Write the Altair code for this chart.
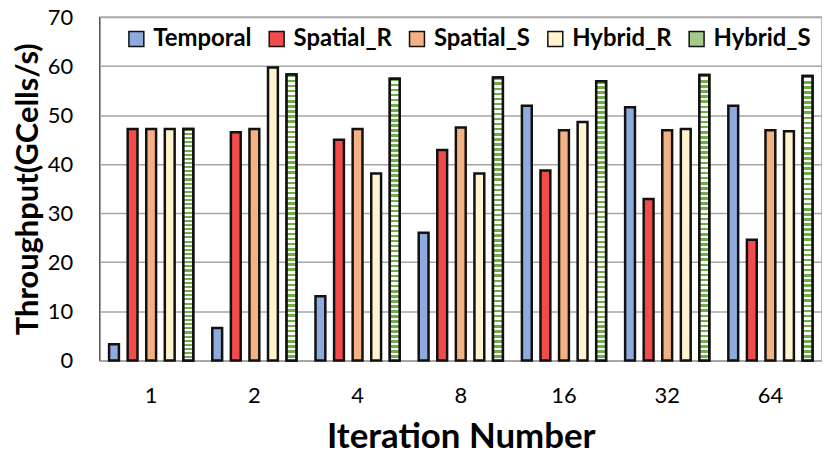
import altair as alt
import pandas as pd

iterations = ["1", "2", "4", "8", "16", "32", "64"]
series = ["Temporal", "Spatial_R", "Spatial_S", "Hybrid_R", "Hybrid_S"]
temporal = [3.3, 6.6, 13.1, 26.0, 51.9, 51.6, 51.9]
spatial_r = [47.2, 46.5, 45.0, 42.9, 38.7, 32.9, 24.6]
spatial_s = [47.2, 47.2, 47.2, 47.5, 46.9, 46.9, 46.9]
hybrid_r = [47.2, 59.7, 38.1, 38.1, 48.6, 47.2, 46.7]
hybrid_s = [47.2, 58.3, 57.4, 57.7, 56.9, 58.2, 58.0]
colors = ["#8FAADC", "#F24B4B", "#F4B183", "#FFF4CF", "#A4CB88"]

values = [temporal, spatial_r, spatial_s, hybrid_r, hybrid_s]
rows = []
for s, vals in zip(series, values):
    for it, v in zip(iterations, vals):
        rows.append({"Iteration": it, "Series": s, "Value": v})
df = pd.DataFrame(rows)

FONT = "Lato"

# horizontal green/white stripes for Hybrid_S (style only)
stripe_stops = []
n_stripes = 56
for i in range(n_stripes):
    a = i / n_stripes
    b = (i + 0.5) / n_stripes
    c = (i + 1) / n_stripes
    stripe_stops += [
        alt.GradientStop(offset=a, color="#70AD47"),
        alt.GradientStop(offset=b, color="#70AD47"),
        alt.GradientStop(offset=b, color="#FFFFFF"),
        alt.GradientStop(offset=c, color="#FFFFFF"),
    ]
green_stripes = alt.Gradient(
    gradient="linear", stops=stripe_stops, x1=0, x2=0, y1=0, y2=1
)

x_enc = alt.X(
    "Iteration:N",
    sort=iterations,
    scale=alt.Scale(paddingInner=0.1, paddingOuter=0.05),
    axis=alt.Axis(
        title="Iteration Number",
        labelAngle=0,
        ticks=False,
        grid=False,
        domainColor="#a6a6a6",
        domainWidth=2,
        labelFont=FONT,
        labelFontSize=22,
        labelColor="#000000",
        labelPadding=25,
        titleFont=FONT,
        titleFontSize=35,
        titleFontWeight="bold",
        titleColor="#000000",
        titlePadding=14,
    ),
)
xo_enc = alt.XOffset(
    "Series:N",
    sort=series,
    scale=alt.Scale(domain=series, paddingInner=0.47, paddingOuter=0.235),
)
y_enc = alt.Y(
    "Value:Q",
    scale=alt.Scale(domain=[0, 70], nice=False),
    axis=alt.Axis(
        title="Throughput(GCells/s)",
        values=[0, 10, 20, 30, 40, 50, 60, 70],
        ticks=False,
        domain=False,
        gridColor="#a6a6a6",
        gridWidth=1.5,
        labelFont=FONT,
        labelFontSize=22,
        labelColor="#000000",
        labelPadding=27,
        titleFont=FONT,
        titleFontSize=31,
        titleFontWeight="bold",
        titleColor="#000000",
        titlePadding=3,
    ),
)

bars = alt.Chart(df).mark_bar(stroke="#111111", strokeWidth=2.5).encode(
    x=x_enc,
    xOffset=xo_enc,
    y=y_enc,
    color=alt.Color(
        "Series:N",
        sort=series,
        scale=alt.Scale(domain=series, range=colors),
        legend=alt.Legend(
            title=None,
            orient="none",
            direction="horizontal",
            legendX=25,
            legendY=10,
            symbolType="square",
            symbolSize=225,
            symbolStrokeColor="#111111",
            symbolStrokeWidth=1.5,
            symbolOpacity=1,
            labelFont=FONT,
            labelFontSize=24,
            labelFontWeight="bold",
            labelColor="#000000",
            labelOffset=5,
            columnPadding=13,
            padding=0,
        ),
    ),
)

striped = alt.Chart(df).transform_filter(
    alt.datum.Series == "Hybrid_S"
).mark_bar(fill=green_stripes, stroke="#111111", strokeWidth=2.5).encode(
    x=x_enc,
    xOffset=xo_enc,
    y=y_enc,
)

chart = alt.layer(bars, striped).properties(
    width=726,
    height=345,
    autosize=alt.AutoSizeParams(type="none"),
    padding={"left": 92, "top": 8, "right": 0, "bottom": 100},
).configure_view(
    stroke="#222222", strokeWidth=1.2
)

chart.save("out.html", embed_options={"renderer": "svg", "actions": False})
